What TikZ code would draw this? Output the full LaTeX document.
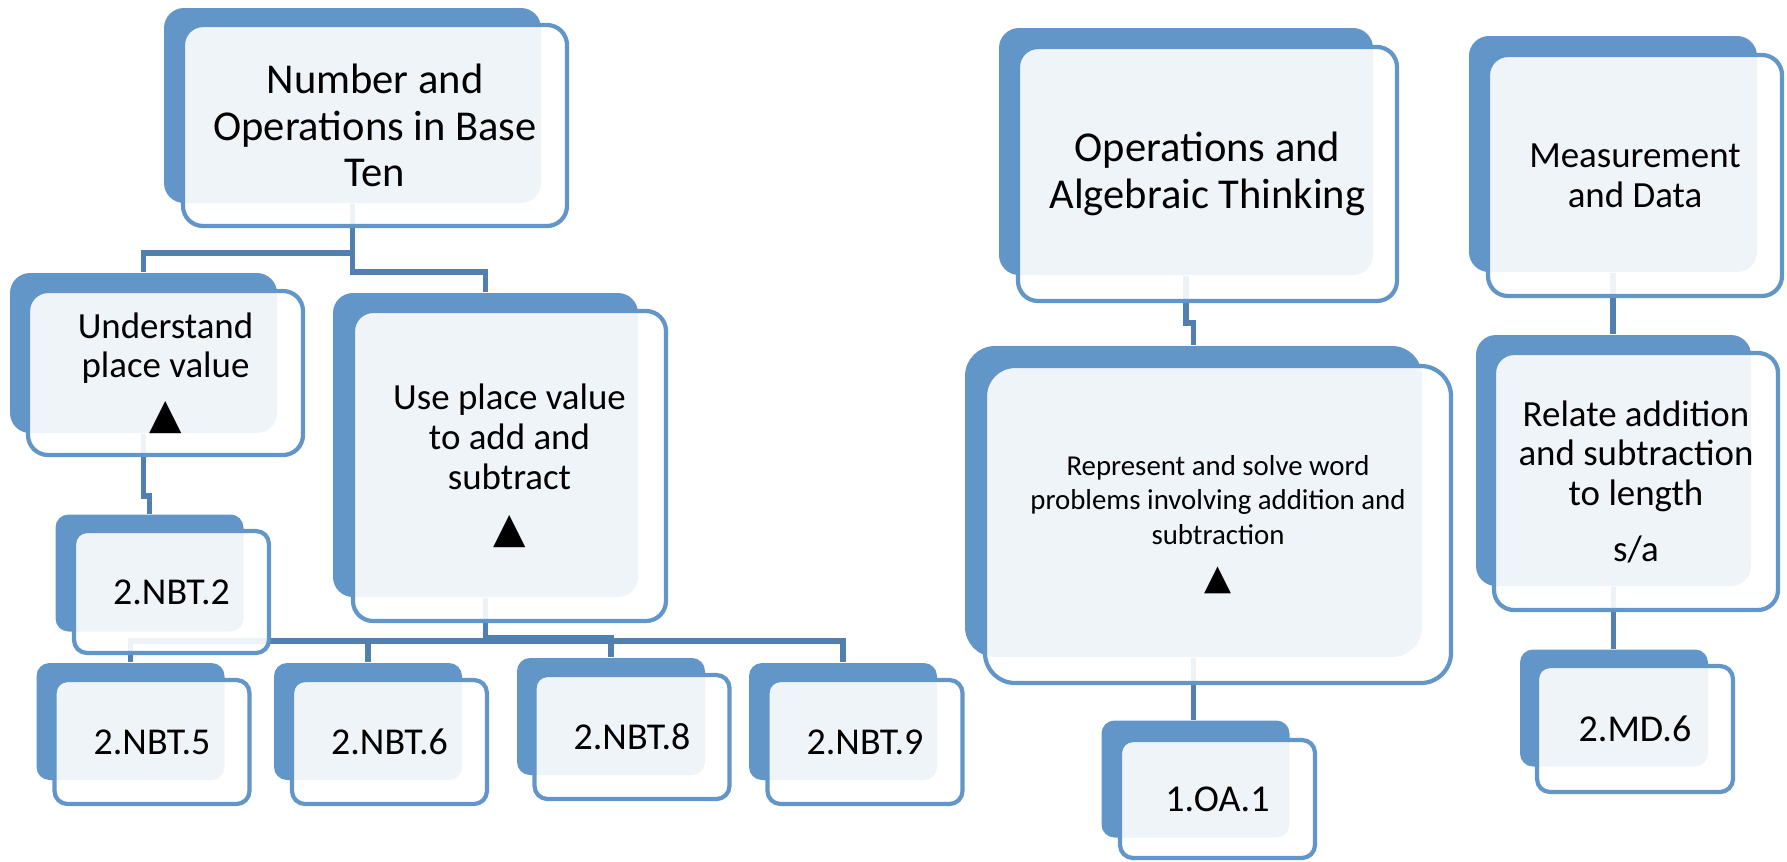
\documentclass[tikz,border=0pt]{standalone}
\usepackage{fontspec}
\setmainfont{Carlito}
\newfontfamily\trifont{DejaVu Sans}
\usepackage{tikz}
\usetikzlibrary{positioning,backgrounds}
\definecolor{smblue}{RGB}{98,150,201}
\definecolor{linkblue}{RGB}{80,127,176}
\newcommand{\bigtxt}{\fontsize{12.1}{13.3}\selectfont}
\newcommand{\midtxt}{\fontsize{10.5}{11.3}\selectfont}
\newcommand{\smalltxt}{\fontsize{8.2}{9.8}\selectfont}
\newcommand{\codetxt}{\fontsize{10.8}{12}\selectfont}
\newcommand{\tri}[1]{{\trifont\fontsize{#1}{#1}\selectfont ▲}}
\tikzset{
  bk/.style={rectangle, rounded corners=2mm, fill=smblue, inner sep=0pt},
  fr/.style={rectangle, rounded corners=2mm, draw=smblue, line width=1.2pt,
             fill=white, fill opacity=0.9, text opacity=1, align=center, font=\midtxt},
  smbk/.style={bk, rounded corners=1.3mm, minimum width=18.8mm, minimum height=11.7mm},
  smfr/.style={fr, rounded corners=1.3mm, minimum width=19.5mm, minimum height=12.4mm,
               font=\codetxt},
  link/.style={draw=linkblue, line width=1.7pt}
}

\begin{document}
\begin{tikzpicture}[x=0.1mm, y=-0.1mm]
  \useasboundingbox (0,0) rectangle (1787,862);
  % Number and Operations in Base Ten
  \node[bk, minimum width=37.7mm, minimum height=19.5mm] (abk) at (352.5,105.5) {};
  \node[fr, minimum width=38.4mm, minimum height=20.1mm, font=\bigtxt] (a) at (375,125.5)
    {Number and\\Operations in Base\\Ten};
  \node[bk, minimum width=26.7mm, minimum height=16mm] (bbk) at (143.5,353) {};
  \node[fr, minimum width=27.5mm, minimum height=16.4mm] (b) at (165.5,373)
    {Understand\\place value\\[3pt]\tri{12}};
  \node[smbk] (cbk) at (149.5,573) {};
  \node[smfr, minimum height=12.2mm] (c) at (171.5,592) {2.NBT.2};
  \node[bk, minimum width=30.5mm, minimum height=30.4mm] (dbk) at (485.5,445) {};
  \node[fr, minimum width=31.3mm, minimum height=31mm] (d) at (509.5,466)
    {Use place value\\to add and\\subtract\\[4pt]\tri{12}};
  \node[smbk] (ebk) at (130.5,721.5) {};
  \node[smfr] (e) at (152,742) {2.NBT.5};
  \node[smbk] (fbk) at (368,721.5) {};
  \node[smfr] (f) at (389.5,742) {2.NBT.6};
  \node[smbk] (gbk) at (611,716.5) {};
  \node[smfr] (g) at (632,737) {2.NBT.8};
  \node[smbk] (hbk) at (843,721.5) {};
  \node[smfr] (h) at (865,742) {2.NBT.9};
  % Operations and Algebraic Thinking
  \node[bk, minimum width=37.4mm, minimum height=24.7mm] (oabk) at (1186,151.5) {};
  \node[fr, minimum width=37.9mm, minimum height=25.4mm, font=\bigtxt] (oa) at (1207.5,174)
    {Operations and\\Algebraic Thinking};
  \node[bk, rounded corners=3mm, minimum width=45.7mm, minimum height=31.1mm] (repbk) at (1193.5,501.5) {};
  \node[fr, rounded corners=3mm, minimum width=46.6mm, minimum height=31.7mm, font=\smalltxt] (rep) at (1218,524.5)
    {Represent and solve word\\problems involving addition and\\subtraction\\[3pt]\tri{10}};
  \node[smbk] (oa1bk) at (1195.5,779) {};
  \node[smfr, minimum height=11.8mm] (oa1) at (1217.5,799) {1.OA.1};
  % Measurement and Data
  \node[bk, minimum width=28.8mm, minimum height=23.6mm] (mdbk) at (1613,154) {};
  \node[fr, minimum width=29.4mm, minimum height=24.1mm] (md) at (1635,175.5)
    {Measurement\\and Data};
  \node[bk, minimum width=27.5mm, minimum height=25.1mm] (lenbk) at (1613.5,460.5) {};
  \node[fr, minimum width=28.4mm, minimum height=25.7mm] (len) at (1636,481.5)
    {Relate addition\\and subtraction\\to length\\[4.5pt]s/a};
  \node[smbk] (md6bk) at (1614,708) {};
  \node[smfr, minimum width=19.6mm, minimum height=12.6mm] (md6) at (1635,729) {2.MD.6};
  % connectors
  \begin{scope}[on background layer]
    \coordinate (busA) at (0,253);
    \coordinate (busD) at (0,641);
    \draw[link] (abk.south) -- (abk.south |- busA) -| (bbk.north);
    \draw[link] (abk.south |- busA) -- ++(0,19) -| (dbk.north);
    \draw[link] (bbk.south) -- ++(0,62) -| (cbk.north);
    \draw[link] (dbk.south) -- ++(0,40) -| (gbk.north);
    \draw[link] (ebk.north) -- (ebk.north |- busD) -| (hbk.north);
    \draw[link] (fbk.north) -- (fbk.north |- busD);
    \draw[link] (oabk.south) -- ++(0,47) -| (repbk.north);
    \draw[link] (repbk.south) -- (repbk.south |- oa1bk.north);
    \draw[link] (mdbk.south) -- (mdbk.south |- lenbk.north);
    \draw[link] (lenbk.south) -- (lenbk.south |- md6bk.north);
  \end{scope}
\end{tikzpicture}
\end{document}
